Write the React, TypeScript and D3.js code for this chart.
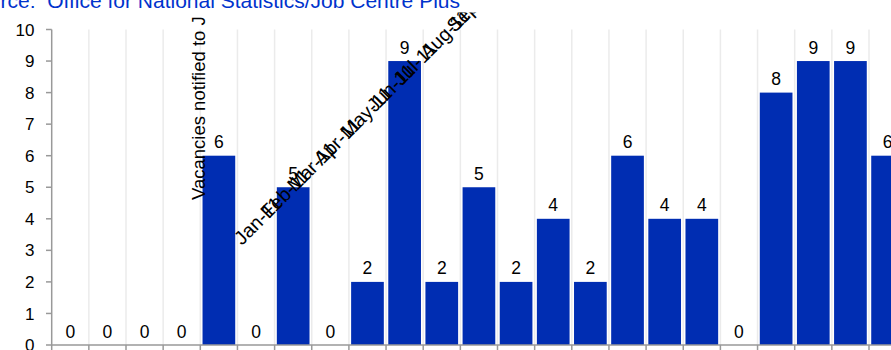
import React from "react";
import * as d3 from "d3";

const values: number[] = [0, 0, 0, 0, 6, 0, 5, 0, 2, 9, 2, 5, 2, 4, 2, 6, 4, 4, 0, 8, 9, 9, 6];
const categories: string[] = values.map((_, i) => `c${i}`);
const yTicks: number[] = [0, 1, 2, 3, 4, 5, 6, 7, 8, 9, 10];
const monthLabels: string[] = ["Jan-11", "Feb-11", "Mar-11", "Apr-11", "May-11", "Jun-11", "Jul-11", "Aug-11", "Sep-11"];
const sourceText = "Source:  Office for National Statistics/Job Centre Plus";
const axisTitle = "Vacancies notified to J";

const W = 891;
const H = 350;
const FONT = "'Liberation Sans', Arial, sans-serif";
const BAR = "#002DB2";

export default function App() {
  const x = d3
    .scaleBand<string>()
    .domain(categories)
    .range([51.7, 51.7 + 37.15 * categories.length])
    .padding(0);
  const y = d3.scaleLinear().domain([0, 10]).range([345, 29.5]);
  const bw = x.bandwidth();
  const inset = bw * 0.06;
  const boundaries = categories.map((c) => x(c) as number).concat([x.range()[1]]);

  return (
    <svg width={W} height={H} style={{ position: "absolute", left: 0, top: 0, background: "#fff" }} fontFamily={FONT}>
      <defs>
        <clipPath id="clipTop">
          <rect x={0} y={12.5} width={W} height={H} />
        </clipPath>
      </defs>
      {/* vertical gridlines */}
      {boundaries.slice(1).map((bx, i) => (
        <line key={`g${i}`} x1={bx} x2={bx} y1={y(10)} y2={y(0)} stroke="#ebebeb" strokeWidth={1.5} />
      ))}
      {/* bars */}
      {values.map((v, i) => (
        <rect
          key={`b${i}`}
          x={(x(categories[i]) as number) + inset}
          y={y(v)}
          width={bw - 2 * inset}
          height={y(0) - y(v)}
          fill={BAR}
        />
      ))}
      {/* value labels */}
      {values.map((v, i) => (
        <text
          key={`v${i}`}
          x={(x(categories[i]) as number) + bw / 2}
          y={y(v) - 7.5}
          textAnchor="middle"
          fontSize={17.5}
          fill="#000"
        >
          {v}
        </text>
      ))}
      {/* y axis */}
      <line x1={51.7} x2={51.7} y1={y(10)} y2={y(0)} stroke="#999" strokeWidth={1.5} />
      {yTicks.map((t) => (
        <g key={`yt${t}`}>
          <line x1={46} x2={51.7} y1={y(t)} y2={y(t)} stroke="#999" strokeWidth={1.5} />
          <text x={34.5} y={y(t)} dy="0.36em" textAnchor="end" fontSize={17} fill="#000">
            {t}
          </text>
        </g>
      ))}
      {/* x axis */}
      <line x1={51.7} x2={W} y1={y(0)} y2={y(0)} stroke="#999" strokeWidth={1.5} />
      {boundaries.map((bx, i) => (
        <line key={`xt${i}`} x1={bx} x2={bx} y1={y(0)} y2={y(0) + 6} stroke="#999" strokeWidth={1.5} />
      ))}
      {/* misplaced texts */}
      <g clipPath="url(#clipTop)">
        <text transform="translate(205,200) rotate(-90)" fontSize={18.5} fill="#000">
          {axisTitle}
        </text>
        <g transform="translate(242,246) rotate(-45)">
          {monthLabels.map((m, i) => (
            <text key={m} x={i * 37.6} y={0} fontSize={19.5} fill="#000">
              {m}
            </text>
          ))}
        </g>
      </g>
      {/* source */}
      <text x={460} y={8} textAnchor="end" fontSize={21} fill="#0033CC" style={{ whiteSpace: "pre" }}>
        {sourceText}
      </text>
    </svg>
  );
}
